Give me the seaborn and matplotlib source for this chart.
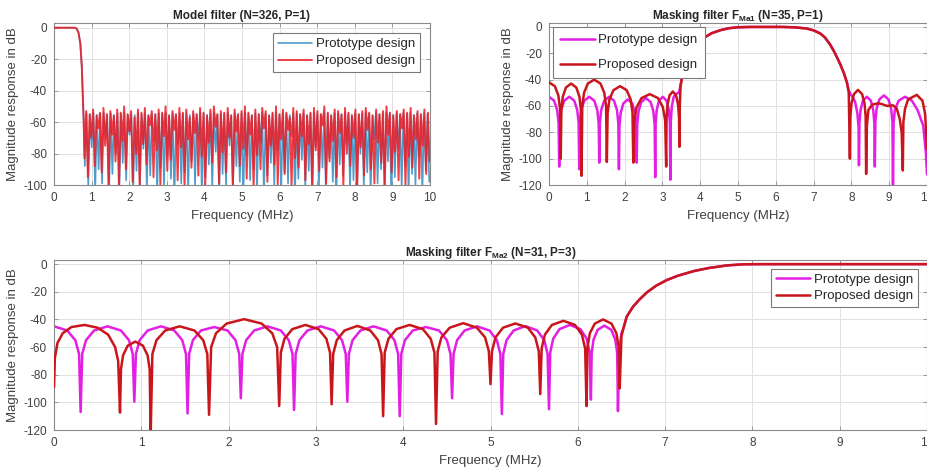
import numpy as np
import pandas as pd
import matplotlib
matplotlib.use("Agg")
import matplotlib.pyplot as plt
import seaborn as sns

# ---------------- data ----------------
# Model filter: shared passband / transition
model_pass_f = [0.0, 0.55, 0.60, 0.65, 0.70, 0.74, 0.77, 0.79]
model_pass_db = [0, 0, -0.5, -3, -10, -25, -45, -60]

# Model filter stopband, proposed design (red): ripple peaks and dips
model_prop_peaks = [
    -53, -55, -52, -56, -54, -51, -55, -53, -56, -52,
    -54, -50, -55, -53, -57, -52, -54, -51, -56, -53,
    -55, -52, -54, -50, -56, -53, -55, -51, -54, -52,
    -57, -53, -55, -51, -54, -56, -52, -50, -55, -53,
    -54, -51, -56, -52, -55, -53, -50, -54, -56, -52,
    -55, -51, -53, -56, -54, -50, -55, -52, -54, -57,
    -51, -53, -55, -52, -56, -54, -51, -53, -55, -50,
    -54, -56, -52, -53, -55, -51, -54, -56, -52, -55,
    -53, -51, -54, -56, -52, -55, -53, -50, -54, -56,
    -53, -55, -52, -54, -51, -56, -53, -55, -52, -54]
model_prop_dips = [
    -83, -95, -70, -88, -64, -92, -75, -100, -68, -85,
    -102, -72, -90, -66, -98, -80, -101, -74, -87, -62,
    -95, -78, -100, -69, -91, -84, -65, -97, -76, -102,
    -71, -89, -67, -94, -82, -100, -73, -86, -63, -99,
    -79, -92, -70, -101, -66, -88, -77, -96, -68, -102,
    -81, -90, -64, -98, -75, -87, -100, -71, -93, -65,
    -101, -83, -89, -69, -97, -74, -102, -78, -91, -62,
    -99, -85, -72, -95, -67, -100, -80, -88, -70, -102,
    -76, -94, -65, -90, -99, -73, -86, -101, -68, -92,
    -79, -97, -64, -100, -82, -89, -71, -96, -75, -93,
    -85]

# Model filter stopband, prototype design (blue)
model_proto_peaks = [
    -54.5, -55.0, -54.2, -55.3, -54.6, -54.1, -55.1, -54.4, -55.4, -54.3,
    -54.8, -54.0, -55.2, -54.5, -55.5, -54.2, -54.9, -54.1, -55.3, -54.6,
    -55.0, -54.3, -54.7, -54.0, -55.4, -54.5, -55.1, -54.2, -54.8, -54.4,
    -55.5, -54.6, -55.0, -54.1, -54.7, -55.3, -54.3, -54.0, -55.2, -54.5,
    -54.9, -54.2, -55.4, -54.4, -55.1, -54.6, -54.0, -54.8, -55.3, -54.3,
    -55.0, -54.1, -54.6, -55.4, -54.7, -54.0, -55.2, -54.4, -54.9, -55.5,
    -54.2, -54.6, -55.1, -54.3, -55.3, -54.8, -54.1, -54.5, -55.0, -54.0,
    -54.7, -55.4, -54.3, -54.6, -55.2, -54.1, -54.9, -55.3, -54.4, -55.0,
    -54.5, -54.2, -54.8, -55.4, -54.3, -55.1, -54.6, -54.0, -54.9, -55.2,
    -54.4, -55.0, -54.3, -54.7, -54.1, -55.3, -54.5, -55.1, -54.2, -54.8]
model_proto_dips = [
    -88, -101, -76, -105, -90, -99, -70, -110, -93, -80,
    -104, -86, -97, -68, -108, -91, -100, -77, -103, -94,
    -72, -107, -89, -101, -82, -96, -110, -74, -99, -92,
    -105, -85, -100, -71, -109, -95, -87, -102, -79, -106,
    -93, -100, -75, -104, -88, -98, -111, -81, -97, -90,
    -103, -73, -108, -94, -86, -101, -78, -106, -92, -99,
    -69, -110, -96, -84, -102, -91, -107, -76, -100, -89,
    -105, -83, -98, -112, -87, -94, -74, -103, -97, -108,
    -80, -101, -92, -106, -71, -99, -90, -104, -85, -110,
    -95, -77, -102, -88, -107, -93, -100, -82, -105, -91,
    -98]

# Masking filter F_Ma1, prototype (magenta)
ma1_proto_f = [
    0.0, 0.135, 0.216, 0.254, 0.27,
    0.286, 0.323, 0.403, 0.535, 0.668, 0.747, 0.784, 0.80,
    0.816, 0.853, 0.933, 1.065, 1.198, 1.277, 1.314, 1.33,
    1.346, 1.382, 1.46, 1.59, 1.72, 1.798, 1.834, 1.85,
    1.864, 1.897, 1.968, 2.085, 2.203, 2.273, 2.306, 2.32,
    2.335, 2.369, 2.443, 2.565, 2.688, 2.761, 2.795, 2.81,
    2.822, 2.85, 2.91, 3.01, 3.11, 3.17, 3.198, 3.21,
    3.222, 3.25, 3.30, 3.38, 3.44, 3.48, 3.52,
    3.56, 3.65, 3.73, 3.85, 4.0, 4.09, 4.3, 4.53, 4.75, 4.97, 5.3, 6.2,
    6.5, 6.82, 7.0, 7.18, 7.3, 7.44, 7.55, 7.7, 7.8, 7.88,
    7.93, 7.97, 8.03, 8.1, 8.16, 8.19, 8.2,
    8.213, 8.242, 8.305, 8.41, 8.515, 8.578, 8.607, 8.62,
    8.634, 8.668, 8.74, 8.86, 8.98, 9.052, 9.086, 9.1,
    9.115, 9.15, 9.25, 9.42, 9.6, 9.75, 9.9, 9.97, 10.0]
ma1_proto_db = [
    -53, -56, -63, -73, -106,
    -73, -63, -56, -53, -56, -63, -73, -108,
    -73, -63, -56, -53, -56, -63, -73, -103,
    -73, -63, -56, -53, -56, -63, -73, -108,
    -75, -65, -58, -55, -58, -65, -75, -103,
    -74, -64, -57, -54, -57, -64, -74, -114,
    -73, -63, -56, -53, -56, -63, -73, -116,
    -72, -60, -53, -50.5, -50, -44, -38,
    -33.7, -26, -19.7, -14, -10, -8.4, -4.8, -2.5, -1, -0.3, 0, 0,
    -0.3, -1.2, -2.6, -5, -8, -13.5, -19, -28, -35, -42,
    -48, -51, -53, -57, -66, -76, -105,
    -73, -63, -56, -53, -56, -63, -73, -106,
    -72, -62, -55, -52, -55, -62, -72, -124,
    -73, -63, -56, -53, -56, -63, -75, -95, -112]

# Masking filter F_Ma1, proposed (dark red)
ma1_prop_f = [
    0.0, 0.155, 0.248, 0.291, 0.31,
    0.327, 0.365, 0.448, 0.585, 0.723, 0.805, 0.844, 0.86,
    0.88, 0.927, 1.028, 1.195, 1.363, 1.463, 1.51, 1.53,
    1.551, 1.60, 1.705, 1.88, 2.055, 2.16, 2.209, 2.23,
    2.256, 2.317, 2.448, 2.665, 2.883, 3.013, 3.074, 3.10,
    3.11, 3.135, 3.188, 3.275, 3.363, 3.415, 3.44, 3.45,
    3.46, 3.48, 3.52, 3.56, 3.65, 3.73, 3.85, 4.0, 4.09, 4.3, 4.53, 4.75,
    4.97, 5.3, 6.2, 6.5, 6.82, 7.0, 7.18, 7.3, 7.44, 7.55, 7.7, 7.8, 7.88,
    7.93, 7.96,
    7.973, 8.003, 8.068, 8.175, 8.283, 8.347, 8.377, 8.39,
    8.41, 8.45, 8.55, 8.7, 8.8, 8.95, 9.1, 9.2, 9.28, 9.33, 9.36,
    9.375, 9.42, 9.5, 9.73, 9.88, 9.95, 10.0]
ma1_prop_db = [
    -42, -45, -52, -62, -100,
    -63, -53, -46, -43, -46, -53, -63, -113,
    -60, -50, -43, -40, -43, -50, -60, -102.5,
    -65, -55, -48, -45, -48, -55, -65, -103,
    -71, -61, -54, -51, -54, -61, -71, -106,
    -69, -59, -52, -49, -52, -59, -69, -91,
    -60, -45, -38, -33.7, -26, -19.7, -14, -10, -8.4, -4.8, -2.5, -1,
    -0.3, 0, 0, -0.3, -1.2, -2.6, -5, -8, -13.5, -19, -28, -35, -42,
    -50, -100,
    -68, -58, -51, -47.8, -51, -58, -68, -111.6,
    -75, -63, -59, -58, -58.5, -60, -59.5, -62, -70, -80, -109,
    -72, -62, -55, -51.6, -56, -66, -93]

# Masking filter F_Ma2, prototype (magenta)
ma2_proto_f = [
    0.0, 0.152, 0.244, 0.287, 0.305,
    0.323, 0.367, 0.459, 0.613, 0.766, 0.859, 0.902, 0.92,
    0.938, 0.981, 1.073, 1.225, 1.378, 1.469, 1.512, 1.53,
    1.548, 1.591, 1.683, 1.835, 1.988, 2.079, 2.122, 2.14,
    2.158, 2.201, 2.293, 2.445, 2.598, 2.689, 2.732, 2.75,
    2.768, 2.811, 2.903, 3.055, 3.208, 3.299, 3.342, 3.36,
    3.378, 3.42, 3.51, 3.66, 3.81, 3.90, 3.942, 3.96,
    3.978, 4.02, 4.11, 4.26, 4.41, 4.50, 4.542, 4.56,
    4.577, 4.617, 4.703, 4.845, 4.988, 5.073, 5.113, 5.13,
    5.146, 5.184, 5.265, 5.40, 5.535, 5.616, 5.654, 5.67,
    5.684, 5.718, 5.79, 5.91, 6.03, 6.102, 6.136, 6.15,
    6.159, 6.181, 6.228, 6.305, 6.383, 6.429, 6.451, 6.46,
    6.475, 6.50, 6.52, 6.56, 6.63, 6.70, 6.79, 6.90, 7.02, 7.15, 7.33,
    7.50, 7.71, 7.90, 8.10, 10.0]
ma2_proto_db = [
    -45, -48, -55, -65, -107,
    -65, -55, -48, -45, -48, -55, -65, -99.5,
    -65, -55, -48, -45, -48, -55, -65, -108,
    -65, -55, -48, -45.5, -48, -55, -65, -97,
    -65, -55, -48, -45, -48, -55, -65, -105.5,
    -65, -55, -48, -45, -48, -55, -65, -99.5,
    -65, -55, -48, -45, -48, -55, -65, -110,
    -65, -55, -48, -45.5, -48, -55, -65, -97,
    -65, -55, -48, -45, -48, -55, -65, -108.5,
    -65, -55, -48, -44.8, -48, -55, -65, -105,
    -64, -54, -47, -44, -47, -54, -64, -98,
    -64, -54.5, -47.5, -44.5, -47.5, -54.5, -64, -106.3,
    -62, -50, -47, -38, -31, -26, -20.5, -15.5, -11.5, -8.3, -5,
    -2.8, -0.9, -0.1, 0, 0]

# Masking filter F_Ma2, proposed (dark red)
ma2_prop_f = [
    0.0, 0.01, 0.04, 0.10, 0.20, 0.35, 0.50, 0.62, 0.70, 0.735, 0.756,
    0.767, 0.791, 0.844, 0.932, 1.019, 1.072, 1.096, 1.107,
    1.127, 1.174, 1.274, 1.44, 1.609, 1.709, 1.756, 1.776,
    1.80, 1.856, 1.977, 2.178, 2.379, 2.50, 2.556, 2.58,
    2.598, 2.64, 2.73, 2.88, 3.03, 3.12, 3.162, 3.18,
    3.198, 3.239, 3.328, 3.475, 3.623, 3.711, 3.752, 3.77,
    3.788, 3.831, 3.922, 4.073, 4.225, 4.315, 4.358, 4.376,
    4.395, 4.438, 4.532, 4.688, 4.844, 4.938, 4.981, 5.0,
    5.017, 5.057, 5.143, 5.285, 5.428, 5.513, 5.553, 5.57,
    5.586, 5.623, 5.703, 5.835, 5.968, 6.047, 6.084, 6.10,
    6.111, 6.138, 6.195, 6.29, 6.385, 6.442, 6.469, 6.48,
    6.50, 6.52, 6.56, 6.63, 6.70, 6.79, 6.90, 7.02, 7.15, 7.33, 7.50,
    7.71, 7.90, 8.10, 10.0]
ma2_prop_db = [
    -89, -68, -57, -50, -45.5, -44, -46, -51, -60, -70, -107.4,
    -76, -66, -59, -56, -59, -66, -76, -124,
    -65, -55, -48, -45, -48, -55, -65, -109,
    -60, -50, -43, -39.8, -43, -50, -60, -102.6,
    -64, -54, -47, -44, -47, -54, -64, -101.4,
    -65, -55, -48, -44.7, -48, -55, -65, -110,
    -64, -54, -47, -44, -47, -54, -64, -115.6,
    -63, -53, -46, -42.7, -46, -53, -63, -86.8,
    -63, -53, -46, -42.9, -46, -53, -63, -94,
    -61, -51, -44, -41, -44, -51, -61, -102.7,
    -60, -50, -43, -40, -43, -50, -60, -89.9,
    -52, -47, -38, -31, -26, -20.5, -15.5, -11.5, -8.3, -5, -2.8,
    -0.9, -0.1, 0, 0]

freq_ticks = list(range(0, 11))
labels = ["Prototype design", "Proposed design"]
titles = ["Model filter (N=326, P=1)",
          r"Masking filter F$_{\mathbf{Ma1}}$ (N=35, P=1)",
          r"Masking filter F$_{\mathbf{Ma2}}$ (N=31, P=3)"]


def interleave(peaks, dips):
    n = min(len(peaks), len(dips) - 1)
    out = []
    for i in range(n):
        out += [dips[i], peaks[i]]
    out.append(dips[n])
    return out


def model_series(peaks, dips, f0, f1):
    stop = interleave(peaks, dips)
    fgrid = np.linspace(f0, f1, len(stop))
    return (np.concatenate([model_pass_f, fgrid]),
            np.concatenate([model_pass_db, stop]))


# ---------------- style ----------------
sns.set_theme(style="whitegrid")
plt.rcParams["font.family"] = ["Liberation Sans", "DejaVu Sans"]
plt.rcParams["mathtext.fontset"] = "custom"
plt.rcParams["mathtext.rm"] = "Liberation Sans"
plt.rcParams["mathtext.bf"] = "Liberation Sans:bold"
plt.rcParams["axes.unicode_minus"] = False

TXT = "#262626"
SPINE = "#8a8a8a"
GRID = "#e0e0e0"

fig = plt.figure(figsize=(9.28, 4.69), dpi=100)
W, H = 928, 469
ax1 = fig.add_axes([54 / W, 1 - 185 / H, 376 / W, 162 / H])
ax2 = fig.add_axes([549 / W, 1 - 185 / H, 378 / W, 162 / H])
ax3 = fig.add_axes([54 / W, 1 - 430 / H, 873 / W, 170 / H])


def draw(ax, f, db, color, lw, label, alpha=1.0, z=2):
    df = pd.DataFrame({"f": f, "db": db})
    sns.lineplot(data=df, x="f", y="db", ax=ax, color=color, linewidth=lw,
                 label=label, sort=False, estimator=None, alpha=alpha,
                 zorder=z)


def style(ax, ylim, yticks, title):
    ax.set_facecolor("white")
    ax.set_xlim(0, 10)
    ax.set_ylim(*ylim)
    ax.set_xticks(freq_ticks)
    ax.set_yticks(yticks)
    ax.grid(True, color=GRID, linewidth=0.7)
    for s in ax.spines.values():
        s.set_visible(True)
        s.set_color(SPINE)
        s.set_linewidth(0.8)
    ax.tick_params(axis="both", direction="in", length=3, width=0.6,
                   color=SPINE, labelsize=8.5, labelcolor="#404040",
                   top=True, right=True, bottom=True, left=True, pad=5)
    ax.set_xlabel("Frequency (MHz)", fontsize=9.5, color="#404040",
                  labelpad=4)
    ax.set_ylabel("Magnitude response in dB", fontsize=9.5, color="#404040",
                  labelpad=3)
    ax.set_title(title, fontsize=8.5, fontweight="bold", color=TXT, pad=3)


def legend(ax, loc, bp, ls, bap):
    leg = ax.legend(loc=loc, fontsize=9.5, frameon=True, fancybox=False,
                    framealpha=1, edgecolor="#7a7a7a", borderpad=bp,
                    handlelength=2.6, handletextpad=0.3, labelspacing=ls,
                    borderaxespad=bap)
    leg.get_frame().set_linewidth(0.8)
    leg.set_zorder(10)


# Model filter
fb, yb = model_series(model_proto_peaks, model_proto_dips, 0.82, 9.98)
fr, yr = model_series(model_prop_peaks, model_prop_dips, 0.81, 9.99)
draw(ax1, fb, yb, "#4f9ccb", 1.2, labels[0], z=2)
draw(ax1, fr, yr, "#ee1c24", 1.4, labels[1], alpha=0.85, z=3)
style(ax1, (-100, 3), [0, -20, -40, -60, -80, -100], titles[0])
legend(ax1, "upper right", 0.38, 0.36, 0.75)

# Masking filter F_Ma1
draw(ax2, ma1_proto_f, ma1_proto_db, "#e21fe2", 1.8, labels[0], z=2)
draw(ax2, ma1_prop_f, ma1_prop_db, "#c9161c", 1.8, labels[1], z=3)
style(ax2, (-120, 3), [0, -20, -40, -60, -80, -100, -120], titles[1])
legend(ax2, "upper left", 0.55, 0.95, 0.3)

# Masking filter F_Ma2
draw(ax3, ma2_proto_f, ma2_proto_db, "#e21fe2", 1.8, labels[0], z=2)
draw(ax3, ma2_prop_f, ma2_prop_db, "#c9161c", 1.8, labels[1], z=3)
style(ax3, (-120, 3), [0, -20, -40, -60, -80, -100, -120], titles[2])
legend(ax3, "upper right", 0.35, 0.3, 0.7)

fig.savefig("out.png", dpi=100, facecolor="white")
